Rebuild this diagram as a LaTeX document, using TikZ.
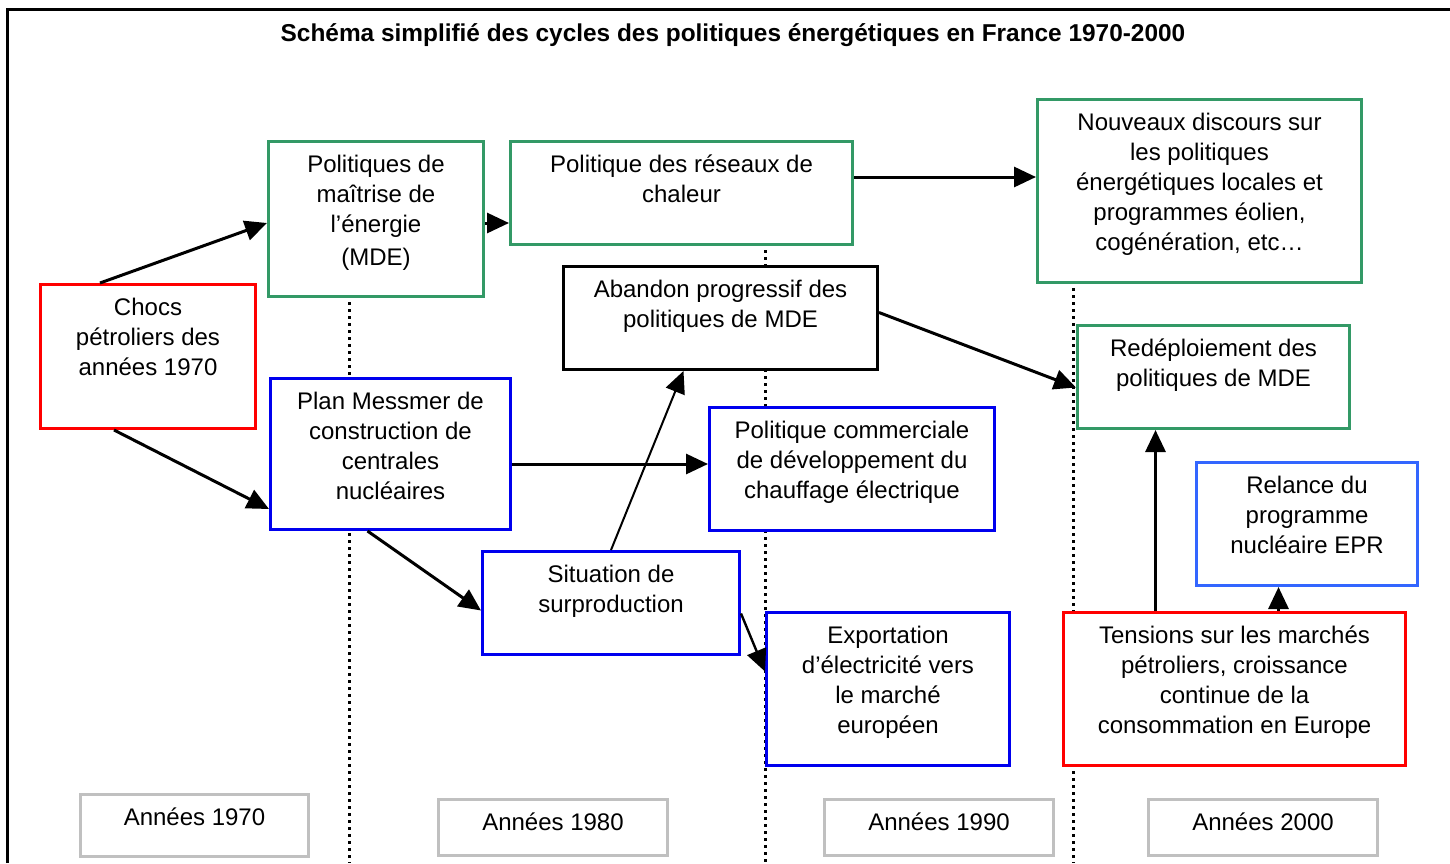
\documentclass[tikz,border=0pt]{standalone}
\usepackage{fontspec}
\setmainfont{Liberation Sans}
\usetikzlibrary{arrows.meta}
\definecolor{vert}{HTML}{339966}
\definecolor{bleu}{HTML}{0000EE}
\definecolor{bleuclair}{HTML}{3366FF}
\definecolor{rouge}{HTML}{FF0000}
\definecolor{gris}{HTML}{C0C0C0}
\newdimen\px \px=0.5pt
% texte centre en haut d'une boite de largeur #1 et hauteur #2 (en px)
\newcommand{\boite}[3]{\parbox[t][\dimexpr#2\px-20\px\relax][t]{#1\px}{\centering\strut #3}}
\tikzset{
  cadre/.style={draw=#1, fill=white, line width=1.5pt, inner xsep=0pt, inner ysep=10\px, anchor=north west},
  fleche/.style={-{Triangle[length=11pt,width=10pt]}, line width=1.5pt},
  pointille/.style={dotted, line width=1.5pt}
}

\begin{document}
\begin{tikzpicture}[x=0.5pt, y=-0.5pt, every node/.style={font=\fontsize{12}{15}\selectfont}]
    \useasboundingbox (0,0) rectangle (1450,863);
    \draw[line width=1.5pt] (7,863) -- (7,9) -- (1450,9);
    \node[font=\bfseries\fontsize{12.2}{14}\selectfont] (titre) at (733,35)
      {Schéma simplifié des cycles des politiques énergétiques en France 1970-2000};

    % separations des decennies
    \foreach \x/\y in {349/295, 765/243, 1073/281} {
      \draw[pointille] (\x,\y) -- (\x,863);
    }

    % annees 1970
    \node[cadre=rouge] (chocs) at (39,283) {\boite{215}{144}{Chocs\\pétroliers des\\années 1970}};
    \node[cadre=vert] (mde) at (267,140) {\boite{215}{155}{Politiques de\\maîtrise de\\l’énergie\\[1.5pt](MDE)}};
    \node[cadre=bleu] (messmer) at (269,377) {\boite{240}{151}{Plan Messmer de\\construction de\\centrales\\nucléaires}};

    % annees 1980
    \node[cadre=vert] (reseaux) at (509,140) {\boite{342}{103}{Politique des réseaux de\\chaleur}};
    \node[cadre=black] (abandon) at (562,265) {\boite{314}{103}{Abandon progressif des\\politiques de MDE}};
    \node[cadre=bleu] (commerce) at (708,406) {\boite{285}{123}{Politique commerciale\\de développement du\\chauffage électrique}};
    \node[cadre=bleu] (surprod) at (481,550) {\boite{257}{103}{Situation de\\surproduction}};
    \node[cadre=bleu] (export) at (765,611) {\boite{243}{153}{Exportation\\d’électricité vers\\le marché\\européen}};

    % annees 1990 et 2000
    \node[cadre=vert] (nouveaux) at (1036,98) {\boite{324}{183}{Nouveaux discours sur\\les politiques\\énergétiques locales et\\programmes éolien,\\cogénération, etc…}};
    \node[cadre=vert] (redeploi) at (1076,324) {\boite{272}{103}{Redéploiement des\\politiques de MDE}};
    \node[cadre=bleuclair] (relance) at (1195,461) {\boite{221}{123}{Relance du\\programme\\nucléaire EPR}};
    \node[cadre=rouge] (tensions) at (1062,611) {\boite{342}{153}{Tensions sur les marchés\\pétroliers, croissance\\continue de la\\consommation en Europe}};

    % decennies
    \node[cadre=gris] (a70) at (79,793) {\boite{228}{62}{Années 1970}};
    \node[cadre=gris] (a80) at (437,798) {\boite{229}{56}{Années 1980}};
    \node[cadre=gris] (a90) at (823,798) {\boite{229}{56}{Années 1990}};
    \node[cadre=gris] (a00) at (1147,798) {\boite{229}{56}{Années 2000}};

    \draw[fleche] ([xshift=-24pt]chocs.north) -- ([yshift=-2pt]mde.west);
    \draw[fleche] ([xshift=-17pt]chocs.south) -- ([yshift=11pt]messmer.south west);
    \draw[fleche] ([yshift=-2pt]mde.east) -- ([yshift=-15pt]reseaux.west);
    \draw[fleche] ([yshift=8pt]reseaux.east) -- ([yshift=7pt]nouveaux.west);
    \draw[fleche] ([xshift=-11.5pt]messmer.south) -- ([yshift=-3.75pt]surprod.west);
    \draw[fleche] ([yshift=-5pt]messmer.east) -- ([yshift=2.5pt]commerce.west);
    \draw[fleche, line width=1pt] (surprod.north) -- ([xshift=-18.5pt]abandon.south);
    \draw[fleche] ([yshift=2.75pt]abandon.east) -- ([yshift=-5.25pt]redeploi.west);
    \draw[fleche, line width=1.2pt] ([yshift=-5.25pt]surprod.east) -- ([yshift=8.75pt]export.west);
    \draw[fleche] ([xshift=-39.5pt]tensions.north) -- ([xshift=-29pt]redeploi.south);
    \draw[fleche] ([xshift=22pt]tensions.north) -- ([xshift=-14.25pt]relance.south);
\end{tikzpicture}
\end{document}
